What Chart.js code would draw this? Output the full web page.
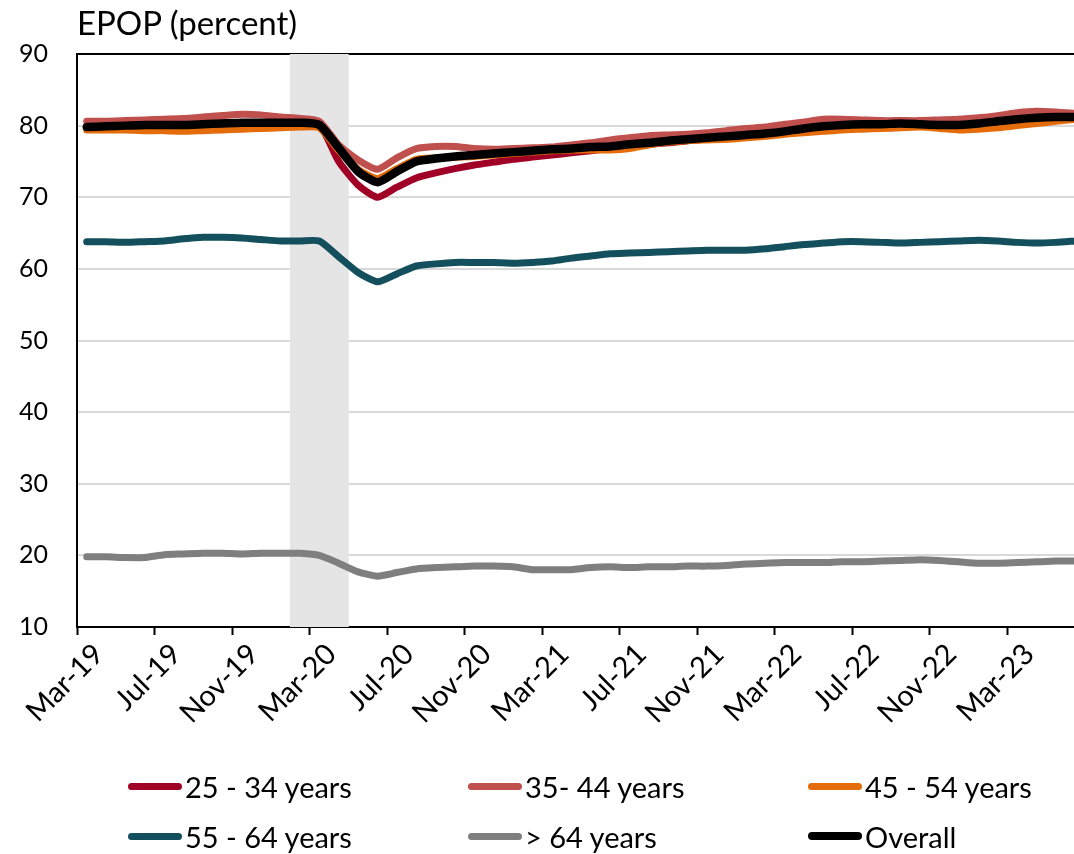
<!DOCTYPE html>
<html><head><meta charset="utf-8">
<script src="https://cdn.jsdelivr.net/npm/chart.js@4.4.1/dist/chart.umd.min.js"></script>
<style>
html,body{margin:0;padding:0;background:#fff;overflow:hidden;width:1074px;height:854px;}
#wrap{position:relative;width:1074px;height:854px;overflow:hidden;}
canvas{position:absolute;left:0;top:0;}
#title{position:absolute;left:77px;top:4px;font-family:Lato,sans-serif;font-size:33px;line-height:36px;color:#000;white-space:nowrap;}
.leg{position:absolute;display:flex;align-items:center;height:40px;font-family:Lato,sans-serif;font-size:29px;color:#000;white-space:nowrap;}
.leg .sw{width:54px;height:7px;border-radius:4px;margin-right:3px;}
</style></head>
<body><div id="wrap"><canvas id="c" width="1085" height="854"></canvas><div id="title">EPOP (percent)</div><div id="legend"></div></div>
<script>
const months = ['Mar-19','Apr-19','May-19','Jun-19','Jul-19','Aug-19','Sep-19','Oct-19','Nov-19','Dec-19',
  'Jan-20','Feb-20','Mar-20','Apr-20','May-20','Jun-20','Jul-20','Aug-20','Sep-20','Oct-20','Nov-20','Dec-20',
  'Jan-21','Feb-21','Mar-21','Apr-21','May-21','Jun-21','Jul-21','Aug-21','Sep-21','Oct-21','Nov-21','Dec-21',
  'Jan-22','Feb-22','Mar-22','Apr-22','May-22','Jun-22','Jul-22','Aug-22','Sep-22','Oct-22','Nov-22','Dec-22',
  'Jan-23','Feb-23','Mar-23','Apr-23','May-23','Jun-23'];

const age25_34 = [79.9,79.9,80.0,80.1,80.1,80.2,80.3,80.4,80.4,80.4,
  80.4,80.3,80.2,75.0,71.7,70.0,71.4,72.7,73.4,74.0,74.5,74.9,
  75.3,75.6,75.9,76.2,76.5,76.8,77.1,77.4,77.6,77.9,78.1,78.3,
  78.5,78.8,79.1,79.5,79.8,80.0,80.1,80.1,80.2,80.1,80.0,80.0,
  80.2,80.5,80.8,81.0,81.1,81.1];
const age35_44 = [80.6,80.6,80.7,80.8,80.9,81.0,81.2,81.4,81.6,81.5,
  81.2,81.0,80.6,77.3,75.2,73.9,75.5,76.8,77.1,77.1,76.8,76.7,
  76.8,76.9,77.0,77.3,77.6,78.0,78.3,78.6,78.7,78.8,79.0,79.3,
  79.6,79.8,80.2,80.5,80.9,80.9,80.8,80.7,80.7,80.7,80.8,80.9,
  81.1,81.4,81.8,82.0,81.9,81.7];
const age45_54 = [79.4,79.4,79.4,79.3,79.3,79.2,79.3,79.4,79.5,79.6,
  79.7,79.8,79.7,76.5,73.9,72.6,74.0,75.3,75.5,75.6,75.7,75.9,
  76.1,76.3,76.5,76.6,76.6,76.6,76.8,77.3,77.7,77.9,78.0,78.1,
  78.3,78.5,78.8,79.0,79.2,79.4,79.5,79.6,79.7,79.8,79.6,79.4,
  79.5,79.7,80.0,80.3,80.6,80.9];
const age55_64 = [63.8,63.8,63.7,63.8,63.9,64.2,64.4,64.4,64.3,64.1,
  63.9,63.9,63.9,61.7,59.5,58.2,59.3,60.4,60.7,60.9,60.9,60.9,
  60.8,60.9,61.1,61.5,61.8,62.1,62.2,62.3,62.4,62.5,62.6,62.6,
  62.6,62.8,63.1,63.4,63.6,63.8,63.8,63.7,63.6,63.7,63.8,63.9,
  64.0,63.9,63.7,63.6,63.7,63.9];
const age65plus = [19.8,19.8,19.7,19.7,20.1,20.2,20.3,20.3,20.2,20.3,
  20.3,20.3,20.0,18.9,17.7,17.1,17.6,18.1,18.3,18.4,18.5,18.5,
  18.4,18.0,18.0,18.0,18.3,18.4,18.3,18.4,18.4,18.5,18.5,18.6,
  18.8,18.9,19.0,19.0,19.0,19.1,19.1,19.2,19.3,19.4,19.3,19.1,
  18.9,18.9,19.0,19.1,19.2,19.2];
const overall = [79.8,79.9,80.0,80.1,80.1,80.1,80.2,80.3,80.4,80.4,
  80.4,80.4,80.1,76.9,73.6,72.1,73.6,75.0,75.4,75.7,75.9,76.1,
  76.3,76.5,76.7,76.8,77.0,77.1,77.4,77.6,77.9,78.1,78.3,78.5,
  78.7,78.9,79.2,79.6,79.9,80.1,80.2,80.2,80.3,80.2,80.1,80.1,
  80.3,80.6,80.9,81.1,81.2,81.2];
// recession shading (Feb-20 to Apr-20) up to the axis top
const recessionMonths = ['Feb-20','Mar-20','Apr-20'];
const yTicks = [10,20,30,40,50,60,70,80,90];

const seriesNames = ['25 - 34 years','35- 44 years','45 - 54 years','55 - 64 years','> 64 years','Overall'];
const seriesData = [age25_34, age35_44, age45_54, age55_64, age65plus, overall];
const seriesColors = ['#A00025','#C0504D','#E46C0A','#134F5C','#7F7F7F','#000000'];
const seriesWidths = [7,7,7,7,7,8.5];
const seriesOrder = [6,5,4,3,2,1];

const yMin = yTicks[0], yMax = yTicks[yTicks.length-1];
const recession = months.map(m => recessionMonths.includes(m) ? yMax : null);

const datasets = [{
  type:'bar', label:'recession', data: recession, backgroundColor:'#E5E5E5',
  borderWidth:0, barPercentage:1, categoryPercentage:1, order:10
}];
seriesNames.forEach((n,i)=>{
  datasets.push({type:'line', label:n, data:seriesData[i], borderColor:seriesColors[i],
    backgroundColor:seriesColors[i], borderWidth:seriesWidths[i], pointRadius:0, pointHoverRadius:0,
    tension:0.2, borderCapStyle:'round', borderJoinStyle:'round', fill:false, order:seriesOrder[i]});
});

new Chart(document.getElementById('c'), {
  type:'line',
  data:{labels:months, datasets},
  options:{
    responsive:false, animation:false, devicePixelRatio:1,
    layout:{padding:{top:54,left:0,right:0,bottom:0}},
    plugins:{legend:{display:false}, tooltip:{enabled:false}, title:{display:false}},
    scales:{
      x:{
        type:'category', offset:true,
        grid:{offset:true, drawOnChartArea:false, drawTicks:true, tickLength:8, tickWidth:2,
          tickColor: c => (c.index % 4 === 0 ? '#000' : 'rgba(0,0,0,0)')},
        border:{display:true, color:'#000', width:2},
        ticks:{autoSkip:false, maxRotation:45, minRotation:45, padding:2, labelOffset:12, color:'#000',
          font:{family:'Lato', size:29},
          callback:(v,i)=> (i % 4 === 0 ? months[i] : '')},
        afterFit: s => { s.height = 854 - 627; s.paddingRight = 0; s.paddingLeft = 0; }
      },
      y:{
        min:yMin, max:yMax,
        afterBuildTicks: s => { s.ticks = yTicks.map(v => ({value:v})); },
        ticks:{padding:29, color:'#000', font:{family:'Lato', size:25}},
        grid:{drawTicks:false, lineWidth:2,
          color: c => (c.tick.value === yMax ? '#000' : (c.tick.value === yMin ? 'rgba(0,0,0,0)' : '#D9D9D9'))},
        border:{display:true, color:'#000', width:2},
        afterFit: s => { s.width = 77; }
      }
    }
  }
});

// legend (3 columns x 2 rows)
const legendEl = document.getElementById('legend');
const colX = [128, 468, 808], rowY = [766, 816];
seriesNames.forEach((n,i)=>{
  const d = document.createElement('div');
  d.className = 'leg';
  d.style.left = colX[i % 3] + 'px';
  d.style.top = rowY[Math.floor(i / 3)] + 'px';
  const sw = document.createElement('span');
  sw.className = 'sw';
  sw.style.background = seriesColors[i];
  if (i === 5) { sw.style.height = '8px'; }
  const t = document.createElement('span');
  t.textContent = n;
  d.appendChild(sw); d.appendChild(t);
  legendEl.appendChild(d);
});
</script>
</body></html>
